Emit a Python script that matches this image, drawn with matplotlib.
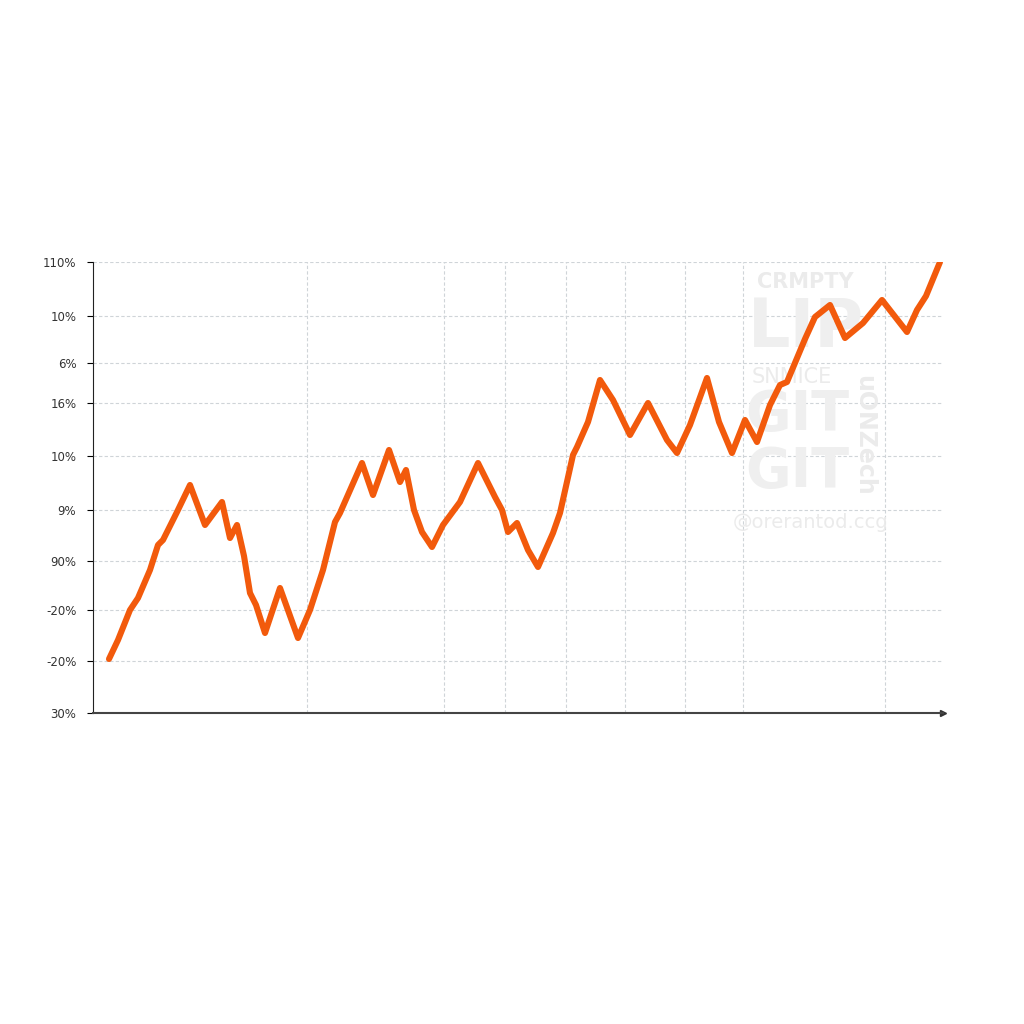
import matplotlib
matplotlib.use("Agg")
from matplotlib import pyplot as plt

# values (x = position along axis, y = value on the odd tick scale)
x_vals = [16, 25, 37, 45, 57, 65, 70, 84, 97, 112,
          129, 137, 144, 151, 157, 163, 172, 187, 205, 217,
          230, 242, 247, 258, 269, 280, 296, 307, 313, 321,
          329, 339, 350, 367, 385, 402, 409, 415, 424, 435,
          445, 460, 467, 480, 484, 495, 507, 520, 537, 555,
          574, 584, 597, 614, 626, 639, 652, 664, 677, 687,
          694, 712, 722, 737, 752, 770, 789, 814, 824, 833,
          847]
y_vals = [54, 73, 103, 115, 143, 168, 173, 201, 228, 188,
          211, 175, 188, 157, 120, 108, 80, 125, 75, 103,
          143, 191, 200, 225, 250, 218, 263, 231, 243, 203,
          181, 166, 188, 211, 250, 216, 203, 181, 190, 163,
          146, 180, 200, 258, 266, 291, 333, 313, 278, 310,
          273, 260, 288, 335, 291, 260, 293, 271, 308, 328,
          331, 374, 396, 408, 375, 390, 413, 381, 403, 417,
          451]

tick_pos = [0, 52, 103, 152, 203, 257, 310, 350, 397, 451]
tick_labels = ["30%", "-20%", "-20%", "90%", "9%", "10%", "16%", "6%", "10%", "110%"]
vgrid = [214, 351, 412, 473, 532, 592, 650, 792]

fig = plt.figure(figsize=(10.24, 10.24), dpi=100)
ax = fig.add_axes([93 / 1024, 1 - 713 / 1024, 850 / 1024, 451 / 1024])

# faint watermark in the upper right, kept under the line
wm = "#ebebeb"
big = "#efefef"
tf = fig.transFigure
ax.text(757 / 1024, 1 - 282 / 1024, "CRMPTY", fontsize=15, fontweight="bold",
        color=wm, va="center", ha="left", transform=tf, zorder=1)
ax.text(748 / 1024, 1 - 328 / 1024, "LIP", fontsize=48, fontweight="bold",
        color=big, va="center", ha="left", transform=tf, zorder=1)
ax.text(752 / 1024, 1 - 377 / 1024, "SNMICE", fontsize=15, color=wm,
        va="center", ha="left", transform=tf, zorder=1)
ax.text(745 / 1024, 1 - 415 / 1024, "GIT", fontsize=40, fontweight="bold",
        color=big, va="center", ha="left", transform=tf, zorder=1)
ax.text(745 / 1024, 1 - 472 / 1024, "GIT", fontsize=40, fontweight="bold",
        color=big, va="center", ha="left", transform=tf, zorder=1)
ax.text(733 / 1024, 1 - 523 / 1024, "@orerantod.ccg", fontsize=14, color=wm,
        va="center", ha="left", transform=tf, zorder=1)
ax.text(864 / 1024, 1 - 435 / 1024, "uONZech", fontsize=17, fontweight="bold",
        color=wm, rotation=-90, va="center", ha="center", transform=tf, zorder=1)

ax.plot(x_vals, y_vals, color="#f25a0c", linewidth=4.4,
        solid_joinstyle="round", solid_capstyle="round", zorder=3)

ax.set_xlim(0, 850)
ax.set_ylim(0, 451)
ax.set_yticks(tick_pos)
ax.set_yticklabels(tick_labels, fontsize=8.5, color="#333333")
ax.set_xticks(vgrid)
ax.set_xticklabels([])
ax.tick_params(axis="x", length=0)
ax.tick_params(axis="y", length=4, width=0.8, pad=8)
ax.grid(True, linestyle=(0, (3, 2)), color="#cfd4d8", linewidth=0.8, zorder=0)
ax.set_axisbelow(True)

for s in ["top", "right"]:
    ax.spines[s].set_visible(False)
ax.spines["left"].set_color("#222222")
ax.spines["bottom"].set_color("#444444")
ax.spines["bottom"].set_linewidth(1.5)
ax.plot(1, 0, ">", transform=ax.transAxes, color="#333333", markersize=5,
        clip_on=False)

fig.savefig("out.png", dpi=100, facecolor="white")
